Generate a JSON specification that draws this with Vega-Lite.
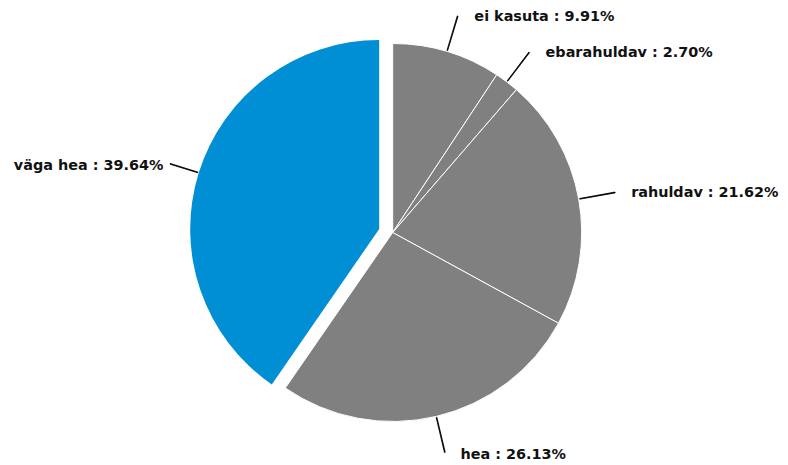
{
  "$schema": "https://vega.github.io/schema/vega-lite/v6.json",
  "width": 788,
  "height": 465,
  "autosize": {"type": "fit", "contains": "padding"},
  "padding": {"left": 5, "right": 7.6, "top": 5, "bottom": 5},
  "background": "white",
  "config": {"view": {"stroke": null}},
  "data": {
    "values": [
      {"label": "ei kasuta", "pct": "9.91%", "share": 9.28, "order": 1},
      {"label": "ebarahuldav", "pct": "2.70%", "share": 2.08, "order": 2},
      {"label": "rahuldav", "pct": "21.62%", "share": 21.61, "order": 3},
      {"label": "hea", "pct": "26.13%", "share": 26.65, "order": 4},
      {"label": "väga hea", "pct": "39.64%", "share": 40.38, "order": 5}
    ]
  },
  "transform": [
    {"stack": "share", "groupby": [], "sort": [{"field": "order", "order": "ascending"}], "as": ["v0", "v1"]},
    {"calculate": "(datum.v0 + datum.v1) / 2", "as": "mid"},
    {"calculate": "datum.mid - 0.03", "as": "l0"},
    {"calculate": "datum.mid + 0.03", "as": "l1"},
    {"calculate": "datum.label + ' : ' + datum.pct", "as": "txt"}
  ],
  "layer": [
    {
      "transform": [{"filter": "datum.label !== 'väga hea'"}],
      "mark": {"type": "arc", "radius": 189, "fill": "#808080", "stroke": "white", "strokeWidth": 1},
      "encoding": {
        "theta": {"field": "v0", "type": "quantitative", "scale": {"domain": [0, 100], "nice": false}},
        "theta2": {"field": "v1"}
      }
    },
    {
      "transform": [{"filter": "datum.label === 'väga hea'"}],
      "mark": {"type": "arc", "radius": 189, "fill": "#008fd5", "xOffset": -13.5, "yOffset": -3.5},
      "encoding": {
        "theta": {"field": "v0", "type": "quantitative", "scale": {"domain": [0, 100], "nice": false}},
        "theta2": {"field": "v1"}
      }
    },
    {
      "transform": [{"filter": "datum.label !== 'väga hea'"}],
      "mark": {"type": "arc", "radius": 226, "radius2": 190, "fill": "black", "stroke": "black", "strokeWidth": 0.8},
      "encoding": {
        "theta": {"field": "l0", "type": "quantitative", "scale": {"domain": [0, 100], "nice": false}},
        "theta2": {"field": "l1"}
      }
    },
    {
      "transform": [{"filter": "datum.label === 'väga hea'"}],
      "mark": {"type": "arc", "radius": 219, "radius2": 190, "fill": "black", "stroke": "black", "strokeWidth": 0.8, "xOffset": -13.5, "yOffset": -3.5},
      "encoding": {
        "theta": {"field": "l0", "type": "quantitative", "scale": {"domain": [0, 100], "nice": false}},
        "theta2": {"field": "l1"}
      }
    },
    {
      "transform": [{"filter": "datum.label !== 'väga hea' && datum.label !== 'hea'"}],
      "mark": {"type": "text", "radius": 225, "align": "left", "baseline": "middle", "dx": 17, "font": "DejaVu Sans", "fontWeight": "bold", "fontSize": 14.4, "fill": "#111"},
      "encoding": {
        "theta": {"field": "mid", "type": "quantitative", "scale": {"domain": [0, 100], "nice": false}},
        "text": {"field": "txt"}
      }
    },
    {
      "transform": [{"filter": "datum.label === 'hea'"}],
      "mark": {"type": "text", "radius": 225, "align": "left", "baseline": "middle", "dx": 16, "dy": 4, "font": "DejaVu Sans", "fontWeight": "bold", "fontSize": 14.4, "fill": "#111"},
      "encoding": {
        "theta": {"field": "mid", "type": "quantitative", "scale": {"domain": [0, 100], "nice": false}},
        "text": {"field": "txt"}
      }
    },
    {
      "transform": [{"filter": "datum.label === 'väga hea'"}],
      "mark": {"type": "text", "radius": 225, "align": "right", "baseline": "middle", "xOffset": -13.5, "yOffset": -3.5, "dx": -1, "dy": 4, "font": "DejaVu Sans", "fontWeight": "bold", "fontSize": 14.4, "fill": "#111"},
      "encoding": {
        "theta": {"field": "mid", "type": "quantitative", "scale": {"domain": [0, 100], "nice": false}},
        "text": {"field": "txt"}
      }
    }
  ]
}
